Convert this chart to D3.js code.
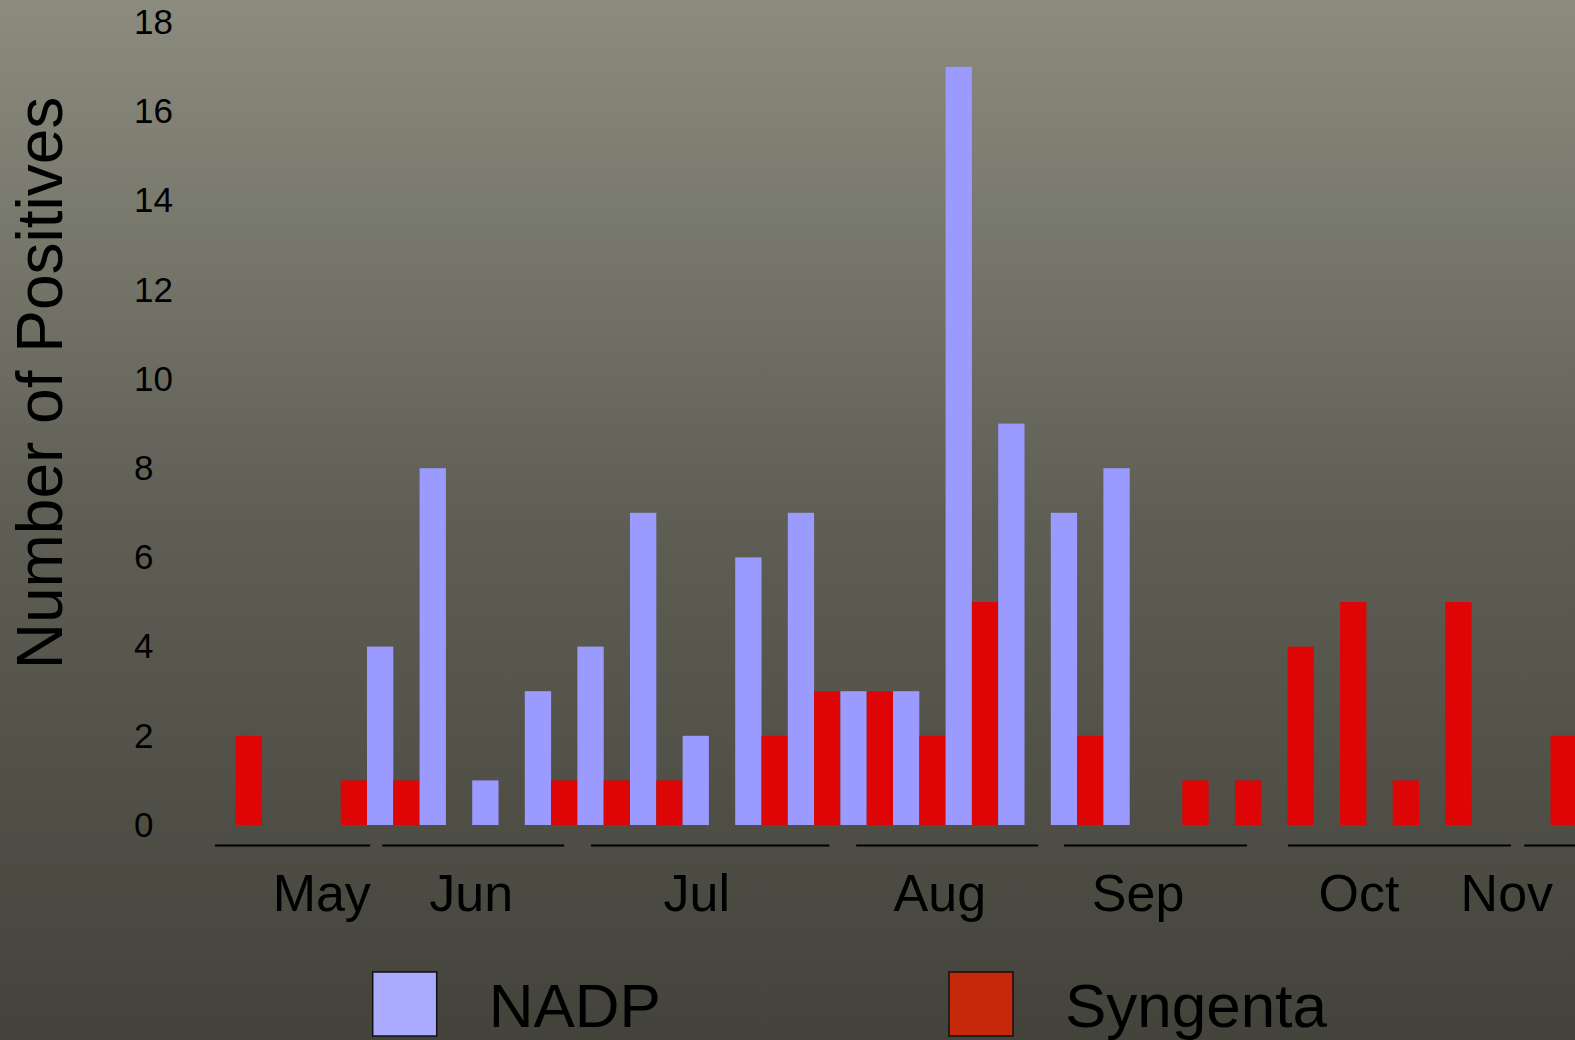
<!DOCTYPE html>
<html>
<head>
<meta charset="utf-8">
<script src="https://cdn.jsdelivr.net/npm/d3@7"></script>
<style>
  html, body { margin: 0; padding: 0; overflow: hidden; background: #43433b; }
  svg { display: block; font-family: "Liberation Sans", Arial, sans-serif; }
</style>
</head>
<body>
<svg id="chart" width="1575" height="1040"></svg>
<script>
// ---- data ----
const categories = ["1","2","3","4","5","6","7","8","9","10","11","12","13","14","15","16","17","18","19","20","21","22","23","24","25","26"];
const seriesNames = ["NADP", "Syngenta"];
const nadp     = [0,0,0,4,8,1,3,4,7,2,6,7,3,3,17,9,7,8,0,0,0,0,0,0,0,0];
const syngenta = [2,0,1,1,0,0,1,1,1,0,2,3,3,2,5,0,2,0,1,1,4,5,1,5,0,2];
const yTicks = [0,2,4,6,8,10,12,14,16,18];
// month labels: name, label centre, underline start/end (in category units)
const monthNames  = ["May","Jun","Jul","Aug","Sep","Oct","Nov"];
const monthCenter = [2.14, 4.98, 9.27, 13.89, 17.66, 21.86, 24.67];
const monthStart  = [0.11, 3.29, 7.26, 12.30, 16.25, 20.51, 25.00];
const monthEnd    = [3.06, 6.75, 11.79, 15.76, 19.73, 24.75, 26.60];

// ---- layout ----
const W = 1575, H = 1040;
const x0 = 209.2, step = 52.6;
const svg = d3.select("#chart");

const defs = svg.append("defs");
const grad = defs.append("linearGradient").attr("id","bg").attr("x1",0).attr("y1",0).attr("x2",0).attr("y2",1);
grad.append("stop").attr("offset","0%").attr("stop-color","#8b8c7e");
grad.append("stop").attr("offset","50%").attr("stop-color","#5f5e55");
grad.append("stop").attr("offset","100%").attr("stop-color","#43433b");
svg.append("rect").attr("width",W).attr("height",H).attr("fill","url(#bg)");

const x = d3.scaleBand().domain(categories).range([x0, x0 + categories.length*step]).padding(0);
const xs = d3.scaleBand().domain(seriesNames).range([0, x.bandwidth()]).padding(0);
const xu = d3.scaleLinear().domain([0, categories.length]).range([x0, x0 + categories.length*step]);
const y = d3.scaleLinear().domain([0,18]).range([825, 22.2]);
const color = d3.scaleOrdinal().domain(seriesNames).range(["#9b9bff", "#dd0505"]);
const legendColor = d3.scaleOrdinal().domain(seriesNames).range(["#aaaaff", "#c8280a"]);

// y axis (labels left-aligned as in the reference)
const yAxis = d3.axisLeft(y).tickValues(yTicks).tickSize(0).tickPadding(0).tickFormat(d3.format("d"));
const gy = svg.append("g").attr("transform","translate(134,0)").call(yAxis);
gy.select(".domain").remove();
gy.selectAll("text").attr("text-anchor","start").attr("x",0)
  .attr("font-size", 35).attr("fill","#000").attr("font-family","Liberation Sans, Arial, sans-serif");

// y title
svg.append("text")
  .attr("transform","translate(62,383) rotate(-90)")
  .attr("text-anchor","middle")
  .attr("font-size", 64)
  .attr("fill","#000")
  .text("Number of Positives");

// bars
const rows = categories.map((c,i) => ({cat:c, values:[{s:"NADP", v:nadp[i]}, {s:"Syngenta", v:syngenta[i]}]}));
const g = svg.append("g");
const grp = g.selectAll("g").data(rows).join("g").attr("transform", d => `translate(${x(d.cat)},0)`);
grp.selectAll("rect").data(d => d.values.filter(e => e.v > 0)).join("rect")
  .attr("x", d => xs(d.s))
  .attr("width", xs.bandwidth())
  .attr("y", d => y(d.v))
  .attr("height", d => y(0) - y(d.v))
  .attr("fill", d => color(d.s));

// month underlines and labels
const months = monthNames.map((m,i) => ({m, c:monthCenter[i], s:monthStart[i], e:monthEnd[i]}));
svg.append("g").selectAll("line").data(months).join("line")
  .attr("x1", d => xu(d.s)).attr("x2", d => xu(d.e))
  .attr("y1", 845.5).attr("y2", 845.5)
  .attr("stroke","#000").attr("stroke-width",2);
svg.append("g").selectAll("text").data(months).join("text")
  .attr("x", d => xu(d.c)).attr("y", 911)
  .attr("text-anchor","middle")
  .attr("font-size", 52)
  .attr("fill","#000")
  .text(d => d.m);

// legend
const legendX = [372.7, 949];
const leg = svg.append("g").selectAll("g").data(seriesNames).join("g")
  .attr("transform", (d,i) => `translate(${legendX[i]},972)`);
leg.append("rect").attr("width",64).attr("height",64)
  .attr("fill", d => legendColor(d)).attr("stroke","#111").attr("stroke-width",1.5);
leg.append("text").attr("x",116).attr("y",55).attr("font-size",62).attr("fill","#000").text(d => d);
</script>
</body>
</html>
